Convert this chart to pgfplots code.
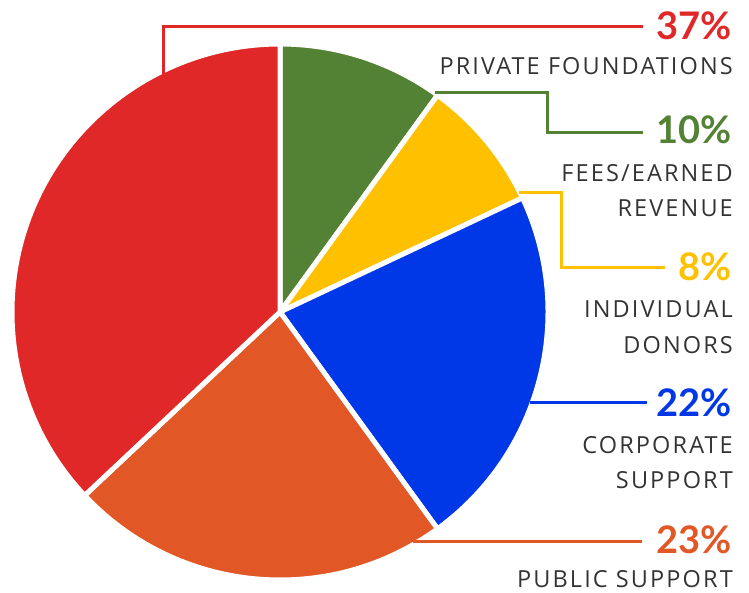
\documentclass[border=0pt]{standalone}
\usepackage{pgfplots}
\pgfplotsset{compat=1.18}
\usepackage{fontspec}
\setmainfont{Open Sans}
\newfontfamily\lato{Lato}
\newfontfamily\labfont[LetterSpace=9]{Open Sans}
\definecolor{pred}{HTML}{E02828}
\definecolor{pgreen}{HTML}{548235}
\definecolor{pyellow}{HTML}{FFC000}
\definecolor{pblue}{HTML}{0037E6}
\definecolor{porange}{HTML}{E15726}
\definecolor{ptext}{HTML}{333333}
% shares in percent, clockwise from 12 o'clock
\def\vGreen{10}\def\vYellow{8}\def\vBlue{22}\def\vOrange{23}\def\vRed{37}
\pgfmathsetmacro\aA{90}
\pgfmathsetmacro\aB{\aA-3.6*\vGreen}
\pgfmathsetmacro\aC{\aB-3.6*\vYellow}
\pgfmathsetmacro\aD{\aC-3.6*\vBlue}
\pgfmathsetmacro\aE{\aD-3.6*\vOrange}
\pgfmathsetmacro\aF{\aE-3.6*\vRed}
\def\R{268pt}
\begin{document}
\begin{tikzpicture}
\begin{axis}[scale only axis, width=749pt, height=593pt,
  xmin=0, xmax=749, ymin=0, ymax=593, y dir=reverse,
  hide axis, clip=false]
\addplot[draw=none, forget plot] coordinates {(0,0) (749,593)};
% pie
\filldraw[fill=pgreen, draw=white, line width=5pt, line join=round] (axis cs:280,312) -- ++(\aA:\R) arc[start angle=\aA, end angle=\aB, radius=\R] -- cycle;
\filldraw[fill=pyellow, draw=white, line width=5pt, line join=round] (axis cs:280,312) -- ++(\aB:\R) arc[start angle=\aB, end angle=\aC, radius=\R] -- cycle;
\filldraw[fill=pblue, draw=white, line width=5pt, line join=round] (axis cs:280,312) -- ++(\aC:\R) arc[start angle=\aC, end angle=\aD, radius=\R] -- cycle;
\filldraw[fill=porange, draw=white, line width=5pt, line join=round] (axis cs:280,312) -- ++(\aD:\R) arc[start angle=\aD, end angle=\aE, radius=\R] -- cycle;
\filldraw[fill=pred, draw=white, line width=5pt, line join=round] (axis cs:280,312) -- ++(\aE:\R) arc[start angle=\aE, end angle=\aF, radius=\R] -- cycle;
% leader lines
\draw[pred, line width=3pt] (axis cs:163,74) -- (axis cs:163,27) -- (axis cs:643,27);
\draw[pgreen, line width=3pt] (axis cs:435,93) -- (axis cs:547,93) -- (axis cs:547,133) -- (axis cs:643,133);
\draw[pyellow, line width=3pt] (axis cs:519,193) -- (axis cs:561,193) -- (axis cs:561,268) -- (axis cs:665,268);
\draw[pblue, line width=3pt] (axis cs:530,402) -- (axis cs:647,402);
\draw[porange, line width=3pt] (axis cs:413,541) -- (axis cs:642,541);
% labels
\tikzset{pct/.style={anchor=base east, inner sep=0pt, font=\fontsize{38}{38}\lato\bfseries},
         lab/.style={anchor=base east, inner sep=0pt, text=ptext, font=\fontsize{23.5}{24}\labfont}}
\node[pct, text=pred] at (axis cs:732,40) {\vRed\%};
\node[lab] at (axis cs:733,75) {PRIVATE FOUNDATIONS};
\node[pct, text=pgreen] at (axis cs:732,144) {\vGreen\%};
\node[lab] at (axis cs:733,182) {FEES/EARNED};
\node[lab] at (axis cs:733,217) {REVENUE};
\node[pct, text=pyellow] at (axis cs:732,281) {\vYellow\%};
\node[lab] at (axis cs:733,318) {INDIVIDUAL};
\node[lab] at (axis cs:733,353) {DONORS};
\node[pct, text=pblue] at (axis cs:732,416) {\vBlue\%};
\node[lab] at (axis cs:733,453) {CORPORATE};
\node[lab] at (axis cs:733,488) {SUPPORT};
\node[pct, text=porange] at (axis cs:732,553) {\vOrange\%};
\node[lab] at (axis cs:733,587) {PUBLIC SUPPORT};
\end{axis}
\pgfresetboundingbox
\useasboundingbox (current axis.south west) rectangle (current axis.north east);
\end{tikzpicture}
\end{document}
